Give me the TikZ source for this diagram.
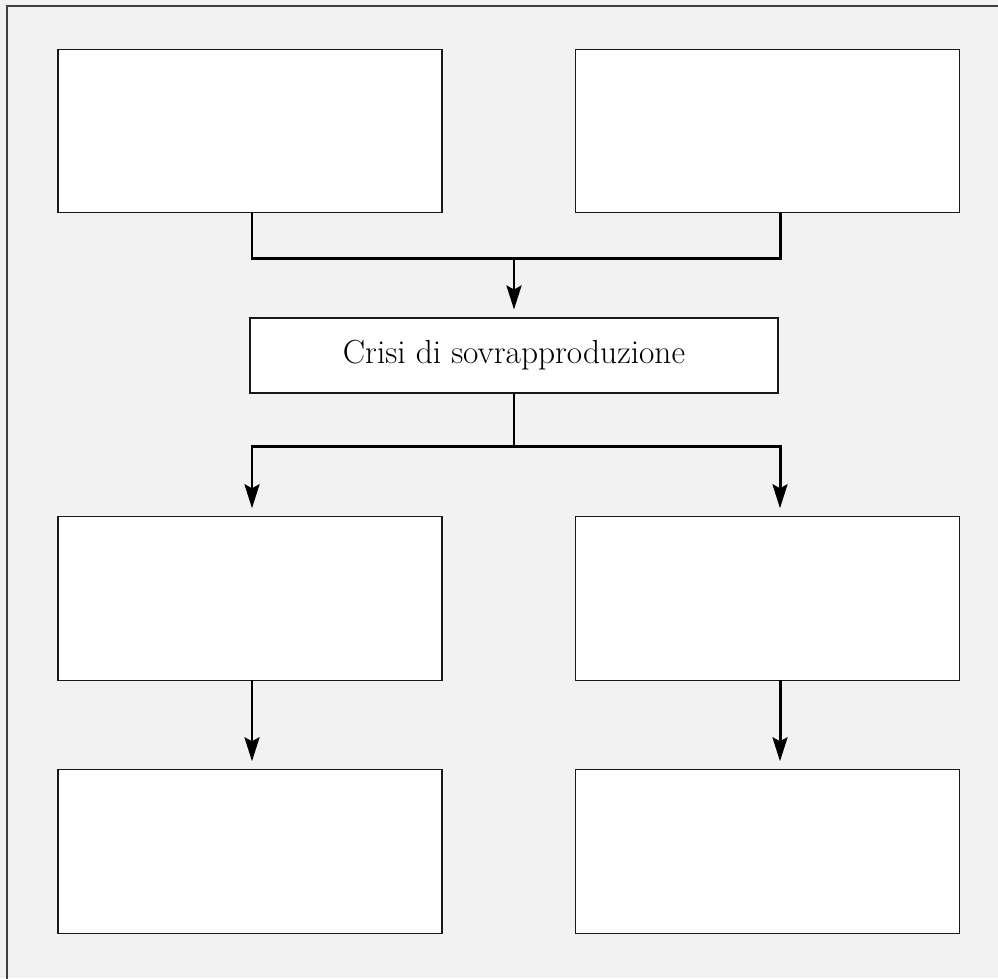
\documentclass[tikz,border=0pt]{standalone}
\usetikzlibrary{arrows.meta}

\begin{document}
\begin{tikzpicture}
[x=0.02cm,y=-0.02cm,%
  box/.style={shape=rectangle,draw=black!90,line width=0.8pt,fill=white,
    outer sep=0pt,inner sep=0pt,minimum width=7.68cm,minimum height=3.27cm},%
  midbox/.style={box,minimum width=10.56cm,minimum height=1.5cm,
    font=\fontsize{19}{23}\selectfont},%
  conn/.style={-,line width=1.7pt,black},%
  arr/.style={conn,-{Stealth[length=0.48cm,width=0.3cm,inset=0.08cm]},
    shorten >=0.17cm}]
\useasboundingbox (0,0) rectangle (998,978);
\fill[black!5] (0,0) rectangle (998,978);
\draw[black!75,line width=1.1pt] (7,990) -- (7,6) -- (1010,6);
%%
\node[box] (tl) at (250,131) {};
\node[box] (tr) at (767.5,131) {};
\node[midbox] (crisi) at (514,355.5) {Crisi di sovrapproduzione};
\node[box] (ml) at (250,598.5) {};
\node[box] (mr) at (767.5,598.5) {};
\node[box] (bl) at (250,851.5) {};
\node[box] (br) at (767.5,851.5) {};
%%
\coordinate (lc) at (252,0);
\coordinate (rc) at (780,0);
\coordinate (jtop) at (514,258);
\coordinate (jbot) at (514,446);
%%
\draw[conn] (tl.south -| lc) |- (jtop) -| (tr.south -| rc);
\draw[arr] (jtop) -- (crisi.north);
\draw[conn] (crisi.south) -- (jbot);
\draw[arr] (jbot) -| (ml.north -| lc);
\draw[arr] (jbot) -| (mr.north -| rc);
\path
\foreach \startNode/\endNode/\col in {ml/bl/lc, mr/br/rc}
{
  (\startNode.south -| \col) edge[arr] (\endNode.north -| \col)
};
\end{tikzpicture}
\end{document}
